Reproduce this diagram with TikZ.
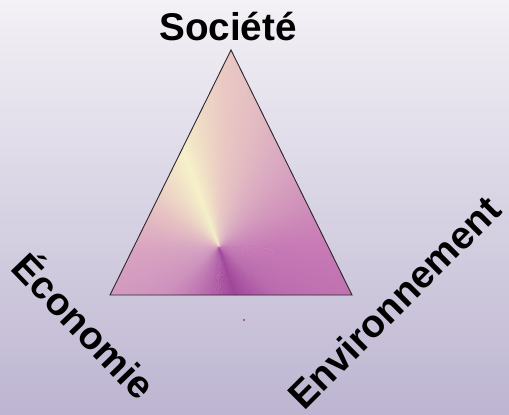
\documentclass[tikz,border=0pt]{standalone}
\usepackage{fontspec}
\setmainfont{Liberation Sans}
\definecolor{dvbgtop}{HTML}{F3F1F6}
\definecolor{dvbgmid}{HTML}{DEDAE8}
\definecolor{dvbgbot}{HTML}{BDB5D1}
\definecolor{dvedge}{HTML}{2E2A2E}
\definecolor{dvright}{HTML}{C77AB5}
\definecolor{dvupright}{HTML}{DCAEC2}
\definecolor{dvapex}{HTML}{EAC9C3}
\definecolor{dvyellow}{HTML}{F6F1C9}
\definecolor{dvupleft}{HTML}{E7C1C3}
\definecolor{dvleft}{HTML}{D9A5C1}
\definecolor{dvlowleft}{HTML}{CE92BE}
\definecolor{dvlow}{HTML}{B462A8}
\definecolor{dvdeep}{HTML}{A0449A}
\definecolor{dvlowright}{HTML}{BA6CAE}

% one slice of the cone, angle #1 to #2, colour #3 to #4
\newcommand{\conicpart}[4]{%
  \foreach \a in {#1,...,#2}{%
    \pgfmathtruncatemacro{\mixp}{100*(#2-\a)/(#2-#1)}
    \fill[#3!\mixp!#4] (hub) -- +(\a:200pt) -- +(\a+1.4:200pt) -- cycle;
  }%
}

\tikzset{
  pillar/.style={font=\fontsize{29}{30}\selectfont\bfseries, inner sep=0pt}
}

\begin{document}
\begin{tikzpicture}[x=0.75pt, y=-0.75pt]
  % Background
  \useasboundingbox (0,0) rectangle (509,414);
  \shade[top color=dvbgtop, middle color=dvbgmid, bottom color=dvbgbot] (0,0) rectangle (509,414);

  % Triangle
  \coordinate (apex) at (231,50);
  \coordinate (left) at (110,295);
  \coordinate (right) at (352,295);
  \coordinate (hub) at (219,247);

  \begin{scope}
    \clip (apex) -- (left) -- (right) -- cycle;
    \conicpart{0}{60}{dvright}{dvupright}
    \conicpart{60}{88}{dvupright}{dvapex}
    \conicpart{88}{110}{dvapex}{dvyellow}
    \conicpart{110}{150}{dvyellow}{dvupleft}
    \conicpart{150}{180}{dvupleft}{dvleft}
    \conicpart{180}{220}{dvleft}{dvlowleft}
    \conicpart{220}{262}{dvlowleft}{dvlow}
    \conicpart{262}{288}{dvlow}{dvdeep}
    \conicpart{288}{322}{dvdeep}{dvlowright}
    \conicpart{322}{360}{dvlowright}{dvright}
  \end{scope}
  \draw[dvedge, line width=0.7pt, line join=miter] (apex) -- (left) -- (right) -- cycle;

  % Stray dot
  \fill[red!50!black] (244,320) circle (0.8);

  % Labels
  \node[pillar, anchor=base] (societe) at (228,40) {Société};
  \node[pillar, rotate=-46] (economie) at (86,324) {Économie};
  \node[pillar, rotate=45] (environnement) at (394,302) {Environnement};
\end{tikzpicture}
\end{document}
